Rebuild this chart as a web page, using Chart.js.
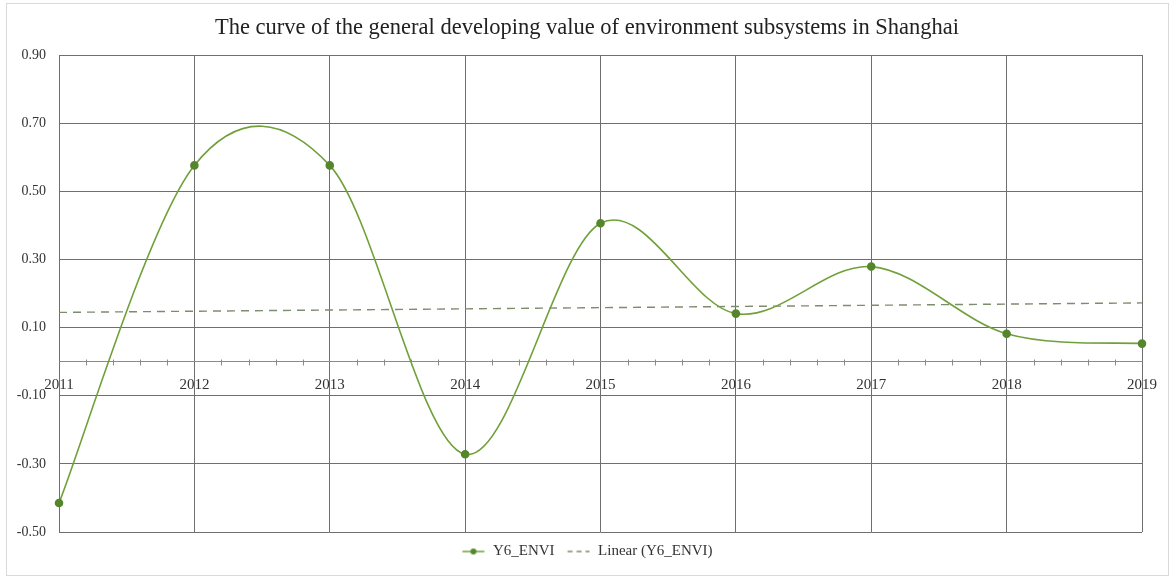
<!DOCTYPE html>
<html>
<head>
<meta charset="utf-8">
<script src="https://cdn.jsdelivr.net/npm/chart.js@4/dist/chart.umd.min.js"></script>
<style>
  html, body { margin: 0; padding: 0; background: #fff; }
  #wrap { width: 1174px; height: 577px; position: relative; }
</style>
</head>
<body>
<div id="wrap"><canvas id="env-chart"></canvas></div>
<script>
// values
const years = ['2011', '2012', '2013', '2014', '2015', '2016', '2017', '2018', '2019'];
const envValues = [-0.415, 0.576, 0.576, -0.272, 0.406, 0.141, 0.279, 0.082, 0.053];
const yTicks = [-0.5, -0.3, -0.1, 0.1, 0.3, 0.5, 0.7, 0.9];

const SERIF = "'Liberation Serif', 'Times New Roman', serif";
const lineColor = '#70a03a';
const dotColor = '#55862b';
const trendColor = '#7d8c6c';
const gridColor = '#6f6f6f';

// least squares fit, like Excel's "Linear" trendline
function linearFit(values) {
    const n = values.length;
    const mx = (n - 1) / 2;
    const my = values.reduce((a, b) => a + b, 0) / n;
    let sxy = 0, sxx = 0;
    values.forEach((v, i) => { sxy += (i - mx) * (v - my); sxx += (i - mx) * (i - mx); });
    const slope = sxy / sxx;
    return values.map((v, i) => my + slope * (i - mx));
}

function legendIcon(dashed) {
    const c = document.createElement('canvas');
    c.width = 24; c.height = 8;
    const g = c.getContext('2d');
    g.lineWidth = 1.5;
    g.strokeStyle = dashed ? trendColor : lineColor;
    if (dashed) g.setLineDash([5, 4]);
    g.beginPath(); g.moveTo(1, 4); g.lineTo(23, 4); g.stroke();
    if (!dashed) {
        g.fillStyle = dotColor;
        g.beginPath(); g.arc(12, 4, 3, 0, Math.PI * 2); g.fill();
    }
    return c;
}
const legendIcons = [legendIcon(false), legendIcon(true)];

// Excel-style smoothing: bezier handles at 1/6 of the neighbour span
const excelSmooth = {
    id: 'excelSmooth',
    beforeDatasetDraw(chart, args) {
        if (args.index !== 0) return;
        const pts = args.meta.data;
        pts.forEach((p, i) => {
            const a = pts[i - 1] || p;
            const b = pts[i + 1] || p;
            const dx = (b.x - a.x) / 6;
            const dy = (b.y - a.y) / 6;
            p.cp1x = p.x - dx; p.cp1y = p.y - dy;
            p.cp2x = p.x + dx; p.cp2y = p.y + dy;
        });
    }
};

// outer frame + small minor ticks along the zero line
const framePlugin = {
    id: 'frame',
    beforeDraw(chart) {
        const ctx = chart.ctx;
        ctx.save();
        ctx.strokeStyle = '#d9d9d9';
        ctx.lineWidth = 1;
        ctx.strokeRect(6.5, 3.5, 1162, 572);
        ctx.restore();
    },
    afterDraw(chart) {
        const { ctx, scales } = chart;
        const x = scales.x, y = scales.y;
        const y0 = Math.round(y.getPixelForValue(0)) + 0.5;
        ctx.save();
        ctx.strokeStyle = '#8a8a8a';
        ctx.lineWidth = 1;
        ctx.beginPath();
        for (let i = 0; i < years.length - 1; i++) {
            for (let k = 1; k < 5; k++) {
                const px = Math.round(x.getPixelForValue(i + k / 5)) + 0.5;
                ctx.moveTo(px, y0 - 3);
                ctx.lineTo(px, y0 + 3);
            }
        }
        ctx.stroke();
        ctx.restore();
    }
};

const canvas = document.getElementById('env-chart');
new Chart(canvas, {
    type: 'line',
    data: {
        labels: years,
        datasets: [
            {
                label: 'Y6_ENVI',
                data: envValues,
                borderColor: lineColor,
                borderWidth: 1.6,
                backgroundColor: dotColor,
                pointBackgroundColor: dotColor,
                pointBorderColor: dotColor,
                pointRadius: 3.5,
                tension: 0.4,
                fill: false,
            },
            {
                label: 'Linear (Y6_ENVI)',
                data: linearFit(envValues),
                borderColor: trendColor,
                borderWidth: 1.4,
                borderDash: [8, 6],
                pointRadius: 0,
                tension: 0,
                fill: false,
            },
        ],
    },
    options: {
        responsive: true,
        maintainAspectRatio: false,
        animation: false,
        layout: { padding: { left: 0, right: 0, top: 0, bottom: 8 } },
        scales: {
            x: {
                type: 'category',
                position: { y: 0 },
                offset: false,
                afterFit: s => { s.height = 0; },
                grid: { color: gridColor, lineWidth: 1, drawTicks: false },
                border: { color: '#8a8a8a', width: 1 },
                ticks: {
                    color: '#333',
                    font: { family: SERIF, size: 15 },
                    padding: 14,
                    maxRotation: 0,
                    autoSkip: false,
                },
            },
            y: {
                min: -0.5,
                max: 0.9,
                afterFit: s => { s.width = 59; },
                afterBuildTicks: s => { s.ticks = yTicks.map(v => ({ value: v })); },
                grid: { color: gridColor, lineWidth: 1, drawTicks: false },
                border: { display: false },
                ticks: {
                    color: '#333',
                    font: { family: SERIF, size: 14 },
                    padding: 13,
                    callback: v => Number(v).toFixed(2),
                },
            },
            // empty right-hand spacer so the title and legend centre on the full page
            spacer: {
                type: 'linear',
                position: 'right',
                display: true,
                afterFit: s => { s.width = 32; },
                grid: { display: false, drawOnChartArea: false },
                border: { display: false },
                ticks: { display: false },
            },
        },
        plugins: {
            title: {
                display: true,
                text: 'The curve of the general developing value of environment subsystems in Shanghai',
                color: '#222',
                font: { family: SERIF, size: 22.5, weight: 'normal' },
                padding: { top: 15, bottom: 13 },
            },
            legend: {
                position: 'bottom',
                labels: {
                    usePointStyle: true,
                    pointStyleWidth: 24,
                    color: '#333',
                    font: { family: SERIF, size: 15 },
                    padding: 12,
                    generateLabels(chart) {
                        const items = Chart.defaults.plugins.legend.labels.generateLabels(chart);
                        items.forEach((it, i) => { it.pointStyle = legendIcons[i]; });
                        return items;
                    },
                },
            },
            tooltip: { enabled: false },
        },
    },
    plugins: [excelSmooth, framePlugin],
});
</script>
</body>
</html>
